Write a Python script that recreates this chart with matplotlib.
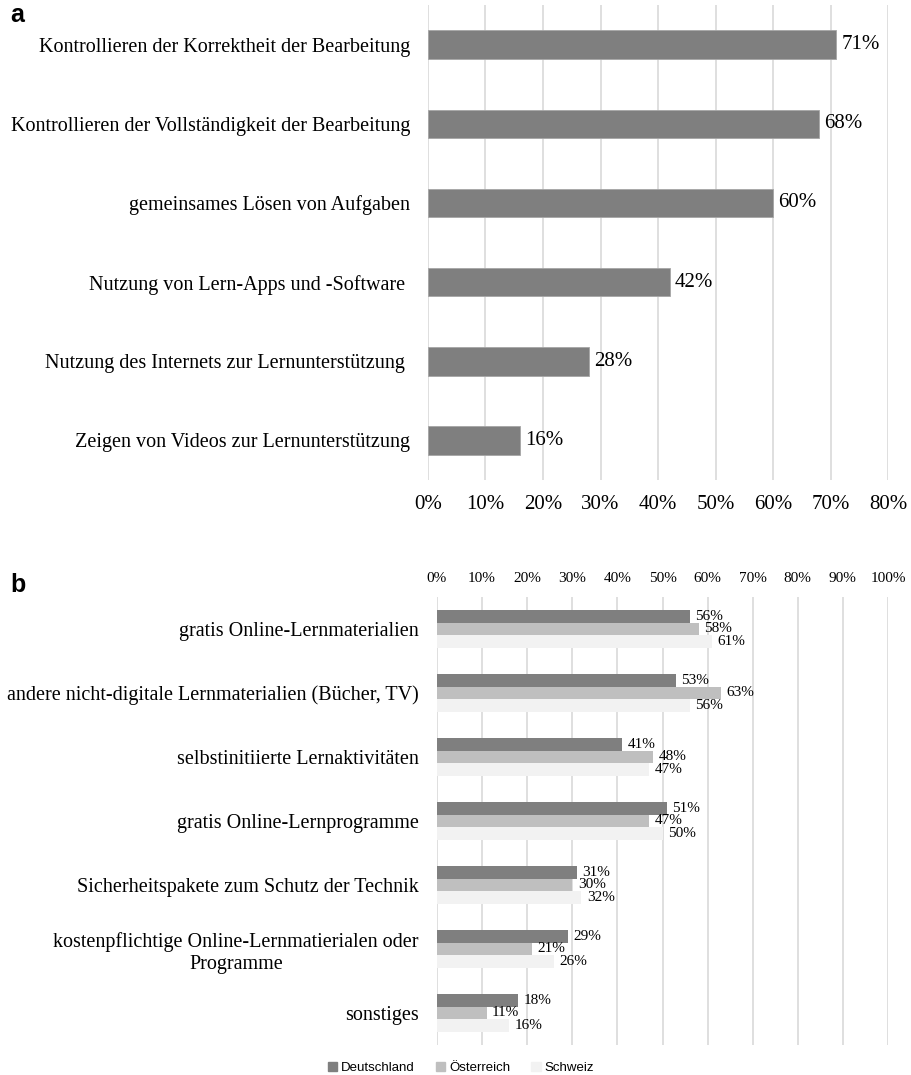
import matplotlib
matplotlib.use('Agg')
from matplotlib import pyplot as plt
from matplotlib.patches import Patch
import numpy as np

# panel a
cats_a = ["Kontrollieren der Korrektheit der Bearbeitung",
          "Kontrollieren der Vollständigkeit der Bearbeitung",
          "gemeinsames Lösen von Aufgaben",
          "Nutzung von Lern-Apps und -Software ",
          "Nutzung des Internets zur Lernunterstützung ",
          "Zeigen von Videos zur Lernunterstützung"]
vals_a = [71, 68, 60, 42, 28, 16]
ticks_a = [0, 10, 20, 30, 40, 50, 60, 70, 80]

# panel b
cats_b = ["gratis Online-Lernmaterialien",
          "andere nicht-digitale Lernmaterialien (Bücher, TV)",
          "selbstinitiierte Lernaktivitäten",
          "gratis Online-Lernprogramme",
          "Sicherheitspakete zum Schutz der Technik",
          "kostenpflichtige Online-Lernmatierialen oder\nProgramme",
          "sonstiges"]
countries = ["Deutschland", "Österreich", "Schweiz"]
deutschland = [56, 53, 41, 51, 31, 29, 18]
oesterreich = [58, 63, 48, 47, 30, 21, 11]
schweiz = [61, 56, 47, 50, 32, 26, 16]
ticks_b = [0, 10, 20, 30, 40, 50, 60, 70, 80, 90, 100]

colors = ['#7f7f7f', '#bfbfbf', '#f2f2f2']
serif = ['Liberation Serif', 'DejaVu Serif']
sans = ['Liberation Sans', 'DejaVu Sans']

W, H = 912, 1075
fig = plt.figure(figsize=(W / 100, H / 100), dpi=100)


def px_axes(left, top, right, bottom):
    return fig.add_axes([left / W, 1 - bottom / H, (right - left) / W, (bottom - top) / H])


def style(ax):
    for s in ax.spines.values():
        s.set_visible(False)
    ax.grid(axis='x', color='#d9d9d9', linewidth=1.2)
    ax.set_axisbelow(True)
    ax.tick_params(length=0)


# ---- a ----
axa = px_axes(428, 5, 888, 480)
style(axa)
y = np.arange(len(cats_a))
axa.barh(y, vals_a, height=0.36, color=colors[0], edgecolor='#a6a6a6', linewidth=0.6)
for yi, v in zip(y, vals_a):
    axa.text(v + 0.9, yi, f"{v}%", va='center', ha='left', fontsize=15, family=serif)
axa.set_xlim(0, 80)
axa.set_ylim(len(cats_a) - 0.5, -0.5)
axa.set_xticks(ticks_a)
axa.set_xticklabels([f"{t}%" for t in ticks_a], fontsize=15, family=serif)
axa.set_yticks(y)
axa.set_yticklabels(cats_a, fontsize=14.5, family=serif)
axa.tick_params(axis='y', pad=13)
axa.tick_params(axis='x', pad=11)

# ---- b ----
axb = px_axes(437, 597, 888, 1045)
style(axb)
yb = np.arange(len(cats_b))
h = 0.2
series = [deutschland, oesterreich, schweiz]
for i, (vals, c) in enumerate(zip(series, colors)):
    pos = yb + (i - 1) * h
    axb.barh(pos, vals, height=h, color=c, label=countries[i])
    for p, v in zip(pos, vals):
        axb.text(v + 1.2, p, f"{v}%", va='center', ha='left', fontsize=11, family=serif)
axb.set_xlim(0, 100)
axb.set_ylim(len(cats_b) - 0.5, -0.5)
axb.xaxis.tick_top()
axb.set_xticks(ticks_b)
axb.set_xticklabels([f"{t}%" for t in ticks_b], fontsize=11, family=serif)
axb.set_yticks(yb)
axb.set_yticklabels(cats_b, fontsize=14.5, family=serif, multialignment='center',
                    linespacing=1.2)
axb.tick_params(axis='y', pad=13)
axb.tick_params(axis='x', pad=9)

handles = [Patch(color=c, label=n) for c, n in zip(colors, countries)]
fig.legend(handles=handles, loc='center', bbox_to_anchor=(461 / W, 1 - 1068 / H),
           ncol=3, frameon=False, handlelength=0.7, handleheight=0.7,
           handletextpad=0.3, columnspacing=1.6,
           prop={'family': sans, 'size': 9.5})

fig.text(10 / W, 1 - 15 / H, 'a', fontsize=18, fontweight='bold', va='center', family=sans)
fig.text(10 / W, 1 - 585 / H, 'b', fontsize=18, fontweight='bold', va='center', family=sans)

fig.savefig('out.png', dpi=100)
